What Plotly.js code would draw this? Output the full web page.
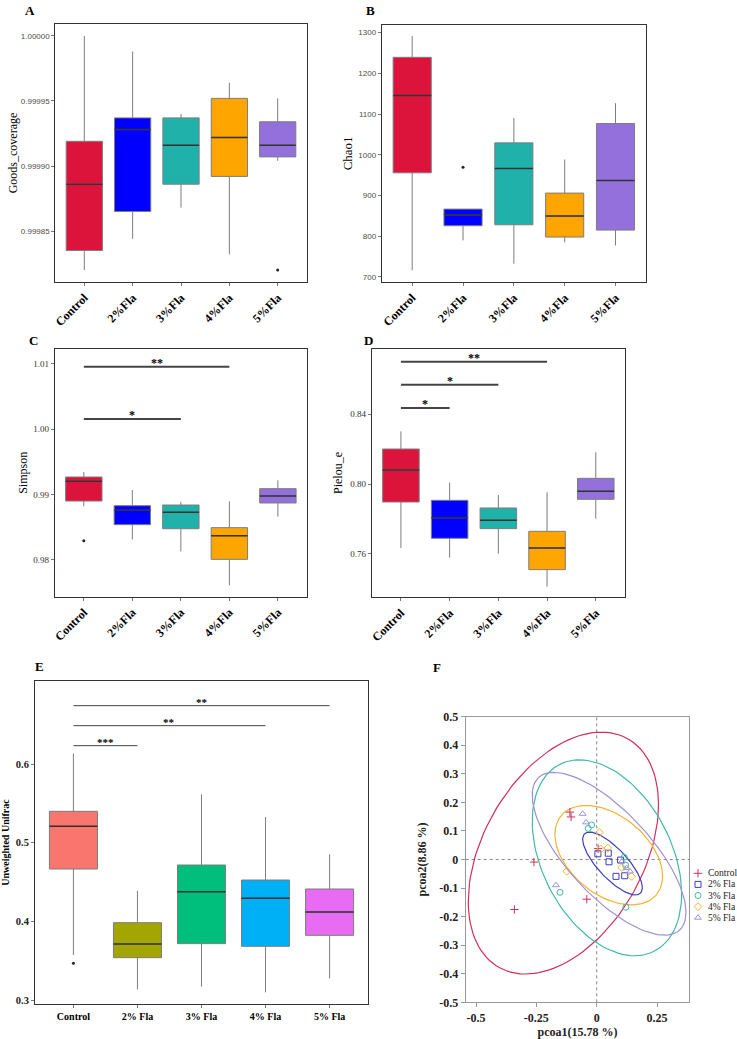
<!DOCTYPE html>
<html><head><meta charset="utf-8">
<script src="https://cdn.plot.ly/plotly-3.0.1.min.js"></script>
<style>html,body{margin:0;padding:0;background:#fff;overflow:hidden;width:737px;height:1039px}#chart{width:737px;height:1039px;display:block}</style>
</head><body><div id="chart"></div>
<script>
// ---------- data ----------
const groups = ['Control','2%Fla','3%Fla','4%Fla','5%Fla'];
const groupsE = ['Control','2% Fla','3% Fla','4% Fla','5% Fla'];
const boxColors = ['#DC143C','#0000FF','#20B2AA','#FFA500','#9370DB'];
const boxColorsE = ['#F8766D','#A3A500','#00BF7D','#00B0F6','#E76BF3'];

// A: Goods_coverage
const goodsLow = [0.999820,0.999844,0.999868,0.999832,0.999904];
const goodsQ1  = [0.999835,0.999865,0.999886,0.999892,0.999907];
const goodsMed = [0.999886,0.999928,0.999916,0.999922,0.999916];
const goodsQ3  = [0.999919,0.999937,0.999937,0.999952,0.999934];
const goodsHigh= [1.000000,0.999988,0.999940,0.999964,0.999952];
const goodsOutX = ['5%Fla'];
const goodsOutY = [0.999820];

// B: Chao1
const chaoLow = [716.3,789.9,732.7,785.0,777.6];
const chaoQ1  = [955.8,825.9,828.3,798.1,815.2];
const chaoMed = [1145.5,852.8,966.5,849.6,937.0];
const chaoQ3  = [1239.5,866.7,1029.4,906.0,1076.8];
const chaoHigh= [1291.8,866.7,1090.7,988.5,1126.7];
const chaoOutX = ['2%Fla'];
const chaoOutY = [969.7];

// C: Simpson
const simpLow = [0.98820,0.98315,0.98132,0.97612,0.98662];
const simpQ1  = [0.98901,0.98540,0.98478,0.98010,0.98871];
const simpMed = [0.99202,0.98759,0.98728,0.98371,0.98978];
const simpQ3  = [0.99268,0.98830,0.98840,0.98494,0.99090];
const simpHigh= [0.99344,0.99069,0.98891,0.98896,0.99217];
const simpOutX = ['Control'];
const simpOutY = [0.98295];
const simpSigFrom = [0,0];
const simpSigTo   = [3,2];
const simpSigY    = [1.00954,1.00154];
const simpSigLab  = ['**','*'];

// D: Pielou_e
const pielLow = [0.76343,0.75790,0.76019,0.74133,0.78019];
const pielQ1  = [0.78971,0.76895,0.77448,0.75105,0.79124];
const pielMed = [0.80800,0.78076,0.77924,0.76343,0.79581];
const pielQ3  = [0.82000,0.79067,0.78629,0.77295,0.80324];
const pielHigh= [0.83010,0.80076,0.79371,0.79524,0.81810];
const pielSigFrom = [0,0,0];
const pielSigTo   = [3,2,1];
const pielSigY    = [0.86990,0.85676,0.84343];
const pielSigLab  = ['**','*','*'];

// E: Unweighted Unifrac
const uniLow = [0.35720,0.31356,0.31695,0.30975,0.32754];
const uniQ1  = [0.46653,0.35381,0.37161,0.36822,0.38220];
const uniMed = [0.52076,0.37119,0.43771,0.42924,0.41186];
const uniQ3  = [0.53983,0.39831,0.47161,0.45254,0.44110];
const uniHigh= [0.61356,0.43856,0.56144,0.53263,0.48517];
const uniOutX = ['Control'];
const uniOutY = [0.34661];
const uniSigFrom = [0,0,0];
const uniSigTo   = [4,3,1];
const uniSigY    = [0.67415,0.64873,0.62331];
const uniSigLab  = ['**','**','***'];

// F: PCoA
const pcoaNames = ['Control','2% Fla','3% Fla','4% Fla','5% Fla'];
const pcoaColors = ['#D0305A','#3F3FBF','#3DBBA5','#F2B430','#A08FD8'];
const pcoaSymbols = ['cross-thin-open','square-open','circle-open','diamond-open','triangle-up-open'];
const pcoaX = [
  [-0.111,-0.106,-0.260,-0.341,-0.041,0.006],
  [0.005,0.048,0.051,0.099,0.080,0.116],
  [-0.021,-0.035,-0.152,0.121,0.114,0.120],
  [0.011,0.017,0.046,0.104,0.144,-0.124],
  [-0.058,-0.044,-0.169,0.104,0.124,0.138]
];
const pcoaY = [
  [0.166,0.149,-0.009,-0.175,-0.139,0.038],
  [0.020,0.022,-0.008,-0.002,-0.059,-0.057],
  [0.121,0.109,-0.115,-0.167,0.008,-0.020],
  [0.095,0.036,0.040,-0.028,-0.059,-0.041],
  [0.160,0.130,-0.090,-0.007,-0.030,-0.042]
];
// ellipse: centre, half-extent in x and y, correlation
const ellCx  = [-0.138,0.0655,0.0425,0.050,0.0515];
const ellCy  = [0.0225,-0.014,0.006,0.015,0.020];
const ellWx  = [0.394,0.1235,0.3095,0.223,0.3185];
const ellWy  = [0.4235,0.110,0.343,0.174,0.285];
const ellRho = [0.40,-0.77,-0.37,-0.42,-0.72];
const pcoaXTicks = [-0.5,-0.25,0,0.25];
const pcoaXTickText = ['-0.5','-0.25','0','0.25'];
const pcoaYTicks = [0.5,0.4,0.3,0.2,0.1,0,-0.1,-0.2,-0.3,-0.4,-0.5];
const pcoaYTickText = ['0.5','0.4','0.3','0.2','0.1','0','-0.1','-0.2','-0.3','-0.4','-0.5'];

// ---------- building ----------
const SERIF = 'Liberation Serif, Times New Roman, serif';
const SANS = 'Liberation Sans, Arial, sans-serif';
const W = 737, H = 1039;
const dx = (a,b)=>[a/W,b/W];
const dy = (top,bot)=>[1-bot/H,1-top/H];

const traces = [];
const shapes = [];
const annotations = [];

function addBoxes(ax, cats, colors, lo, q1, med, q3, hi, outX, outY){
  const xa = 'x'+(ax===1?'':ax), ya = 'y'+(ax===1?'':ax);
  for(let i=0;i<cats.length;i++){
    traces.push({type:'box', x:[cats[i]], q1:[q1[i]], median:[med[i]], q3:[q3[i]],
      lowerfence:[lo[i]], upperfence:[hi[i]], fillcolor:colors[i],
      line:{color:'#7d7d7d',width:1}, width:0.75, whiskerwidth:0,
      boxpoints:false, xaxis:xa, yaxis:ya, showlegend:false, hoverinfo:'skip'});
    shapes.push({type:'line', xref:xa, yref:ya, x0:i-0.375, x1:i+0.375, y0:med[i], y1:med[i],
      line:{color:'#333333',width:1.5}});
  }
  if(outX && outX.length){
    traces.push({type:'scatter', mode:'markers', x:outX, y:outY, xaxis:xa, yaxis:ya,
      marker:{size:3,color:'#222'}, showlegend:false, hoverinfo:'skip'});
  }
}
function addSig(ax, from, to, ys, labs, lw, fsize, yshift){
  const xa = 'x'+ax, ya = 'y'+ax;
  for(let i=0;i<from.length;i++){
    shapes.push({type:'line', xref:xa, yref:ya, x0:from[i], x1:to[i], y0:ys[i], y1:ys[i],
      line:{color:'#444',width:lw}});
    annotations.push({xref:xa, yref:ya, x:(from[i]+to[i])/2, y:ys[i], text:'<b>'+labs[i]+'</b>',
      showarrow:false, yanchor:'bottom', yshift:yshift, font:{family:SERIF,size:fsize,color:'#000'}});
  }
}

addBoxes(1, groups, boxColors, goodsLow, goodsQ1, goodsMed, goodsQ3, goodsHigh, goodsOutX, goodsOutY);
addBoxes(2, groups, boxColors, chaoLow, chaoQ1, chaoMed, chaoQ3, chaoHigh, chaoOutX, chaoOutY);
addBoxes(3, groups, boxColors, simpLow, simpQ1, simpMed, simpQ3, simpHigh, simpOutX, simpOutY);
addBoxes(4, groups, boxColors, pielLow, pielQ1, pielMed, pielQ3, pielHigh, [], []);
addBoxes(5, groupsE, boxColorsE, uniLow, uniQ1, uniMed, uniQ3, uniHigh, uniOutX, uniOutY);
addSig(3, simpSigFrom, simpSigTo, simpSigY, simpSigLab, 2, 12, -5);
addSig(4, pielSigFrom, pielSigTo, pielSigY, pielSigLab, 2, 12, -5);
addSig(5, uniSigFrom, uniSigTo, uniSigY, uniSigLab, 1, 11, -4);

// PCoA
for(let g=0; g<pcoaNames.length; g++){
  const ex=[], ey=[];
  const s = Math.sqrt(1-ellRho[g]*ellRho[g]);
  for(let k=0;k<=120;k++){
    const t = 2*Math.PI*k/120;
    ex.push(ellCx[g]+ellWx[g]*Math.cos(t));
    ey.push(ellCy[g]+ellWy[g]*(ellRho[g]*Math.cos(t)+s*Math.sin(t)));
  }
  traces.push({type:'scatter', mode:'lines', x:ex, y:ey, xaxis:'x6', yaxis:'y6',
    line:{color:pcoaColors[g],width:1.2}, showlegend:false, hoverinfo:'skip'});
}
const pcoaMarker = g => ({symbol:pcoaSymbols[g], size:6, color:pcoaColors[g], line:{color:pcoaColors[g],width:1}});
for(let g=0; g<pcoaNames.length; g++){
  traces.push({type:'scatter', mode:'markers', name:pcoaNames[g], x:pcoaX[g], y:pcoaY[g],
    xaxis:'x6', yaxis:'y6', marker:pcoaMarker(g), showlegend:false});
}
// compact legend for F (legend axes measured in pixels)
const legLeft = 690, legTop = 873.3, legStep = 11.1;
for(let g=0; g<pcoaNames.length; g++){
  traces.push({type:'scatter', mode:'markers', x:[legLeft+8], y:[legTop+g*legStep], xaxis:'x7', yaxis:'y7',
    marker:pcoaMarker(g), showlegend:false, hoverinfo:'skip'});
  annotations.push({xref:'x7', yref:'y7', x:legLeft+16, y:legTop+g*legStep, text:pcoaNames[g], showarrow:false,
    xanchor:'left', yanchor:'middle', font:{family:SERIF,size:9.5,color:'#222'}});
}
shapes.push({type:'line', xref:'x6', yref:'y6 domain', x0:0, x1:0, y0:0, y1:1, line:{color:'#888',width:1,dash:'dot'}, layer:'below'});
shapes.push({type:'line', xref:'x6 domain', yref:'y6', x0:0, x1:1, y0:0, y1:0, line:{color:'#888',width:1,dash:'dot'}, layer:'below'});

// panel letters
[['A',30,11],['B',370,11],['C',33,340],['D',368,340],['E',39,666],['F',437,667]].forEach(p=>{
  annotations.push({xref:'paper',yref:'paper',x:p[1]/W,y:1-p[2]/H,text:'<b>'+p[0]+'</b>',showarrow:false,
    xanchor:'center',yanchor:'middle',font:{family:SERIF,size:13,color:'#000'}});
});

function catX(dom, labels, angle, fsize){
  return {domain:dom, type:'category', categoryorder:'array', categoryarray:labels,
    range:[-0.6,4.6], showline:true, mirror:true, linecolor:'#333', linewidth:1,
    ticks:'outside', ticklen:3, tickcolor:'#777', tickangle:angle,
    tickfont:{family:SERIF,size:fsize,color:'#000',weight:'bold'}, showgrid:false, zeroline:false, fixedrange:true};
}
function valY(dom, range, tv, tt, title, tfont, titleFont, standoff){
  return {domain:dom, range:range, tickvals:tv, ticktext:tt, showline:true, mirror:true,
    linecolor:'#333', linewidth:1, ticks:'outside', ticklen:3, tickcolor:'#777',
    tickfont:tfont, showgrid:false, zeroline:false,
    title:{text:title, font:titleFont, standoff:standoff}};
}

const layout = {
  width:W, height:H, autosize:false, margin:{l:0,r:0,t:0,b:0,pad:0}, paper_bgcolor:'#fff', plot_bgcolor:'#fff',
  showlegend:false,
  xaxis: catX(dx(55.3,306.7), groups, -45, 12),
  yaxis: valY(dy(24,282), [0.9998108,1.0000092], [0.99985,0.9999,0.99995,1.0],
    ['0.99985','0.99990','0.99995','1.00000'], 'Goods_coverage',
    {family:SANS,size:8,color:'#4d4d4d'}, {family:SERIF,size:12,color:'#000'}, 0),
  xaxis2: catX(dx(381.7,646), groups, -45, 12),
  yaxis2: valY(dy(24.7,282), [687.7,1319.6], [700,800,900,1000,1100,1200,1300],
    ['700','800','900','1000','1100','1200','1300'], 'Chao1',
    {family:SANS,size:8,color:'#4d4d4d'}, {family:SERIF,size:13,color:'#000'}, 2),
  xaxis3: catX(dx(54.7,307), groups, -45, 12),
  yaxis3: valY(dy(349,596.7), [0.97439,1.01224], [0.98,0.99,1.00,1.01],
    ['0.98','0.99','1.00','1.01'], 'Simpson',
    {family:SERIF,size:9,color:'#333'}, {family:SERIF,size:12,color:'#000'}, 2),
  xaxis4: catX(dx(371.7,625), groups, -45, 12),
  yaxis4: valY(dy(348.7,597.3), [0.73524,0.87733], [0.76,0.80,0.84],
    ['0.76','0.80','0.84'], 'Pielou_e',
    {family:SERIF,size:9,color:'#333'}, {family:SERIF,size:12,color:'#000'}, 4),
  xaxis5: catX(dx(35,368), groupsE, 0, 10),
  yaxis5: valY(dy(681,1004), [0.29492,0.7055], [0.3,0.4,0.5,0.6],
    ['0.3','0.4','0.5','0.6'], 'Unweighted Unifrac',
    {family:SERIF,size:10.5,color:'#222',weight:'bold'}, {family:SERIF,size:10,color:'#000',weight:'bold'}, 6),
  xaxis6: {domain:dx(465.7,689.3), range:[-0.5427,0.3837], tickvals:pcoaXTicks, ticktext:pcoaXTickText,
    showline:true, mirror:true, linecolor:'#999', linewidth:1, ticks:'outside', ticklen:4, tickcolor:'#999',
    tickfont:{family:SERIF,size:12,color:'#222',weight:'bold'}, showgrid:false, zeroline:false,
    title:{text:'pcoa1(15.78 %)', font:{family:SERIF,size:12,color:'#222',weight:'bold'}, standoff:5}},
  yaxis6: {domain:dy(716.7,1002.3), range:[-0.5,0.5], tickvals:pcoaYTicks, ticktext:pcoaYTickText,
    showline:true, mirror:true, linecolor:'#999', linewidth:1, ticks:'outside', ticklen:4, tickcolor:'#999',
    tickfont:{family:SERIF,size:12,color:'#222',weight:'bold'}, showgrid:false, zeroline:false,
    title:{text:'pcoa2(8.86 %)', font:{family:SERIF,size:12,color:'#222',weight:'bold'}, standoff:10}},
  xaxis7: {domain:dx(690,737), range:[690,737], visible:false, fixedrange:true},
  yaxis7: {domain:dy(862,930), range:[930,862], visible:false, fixedrange:true},
  shapes:shapes, annotations:annotations
};
layout.xaxis.anchor='y'; layout.yaxis.anchor='x';
layout.xaxis2.anchor='y2'; layout.yaxis2.anchor='x2';
layout.xaxis3.anchor='y3'; layout.yaxis3.anchor='x3';
layout.xaxis4.anchor='y4'; layout.yaxis4.anchor='x4';
layout.xaxis5.anchor='y5'; layout.yaxis5.anchor='x5';
layout.xaxis6.anchor='y6'; layout.yaxis6.anchor='x6';
layout.xaxis7.anchor='y7'; layout.yaxis7.anchor='x7';

Plotly.newPlot('chart', traces, layout, {staticPlot:true, displayModeBar:false, responsive:false});
</script></body></html>
